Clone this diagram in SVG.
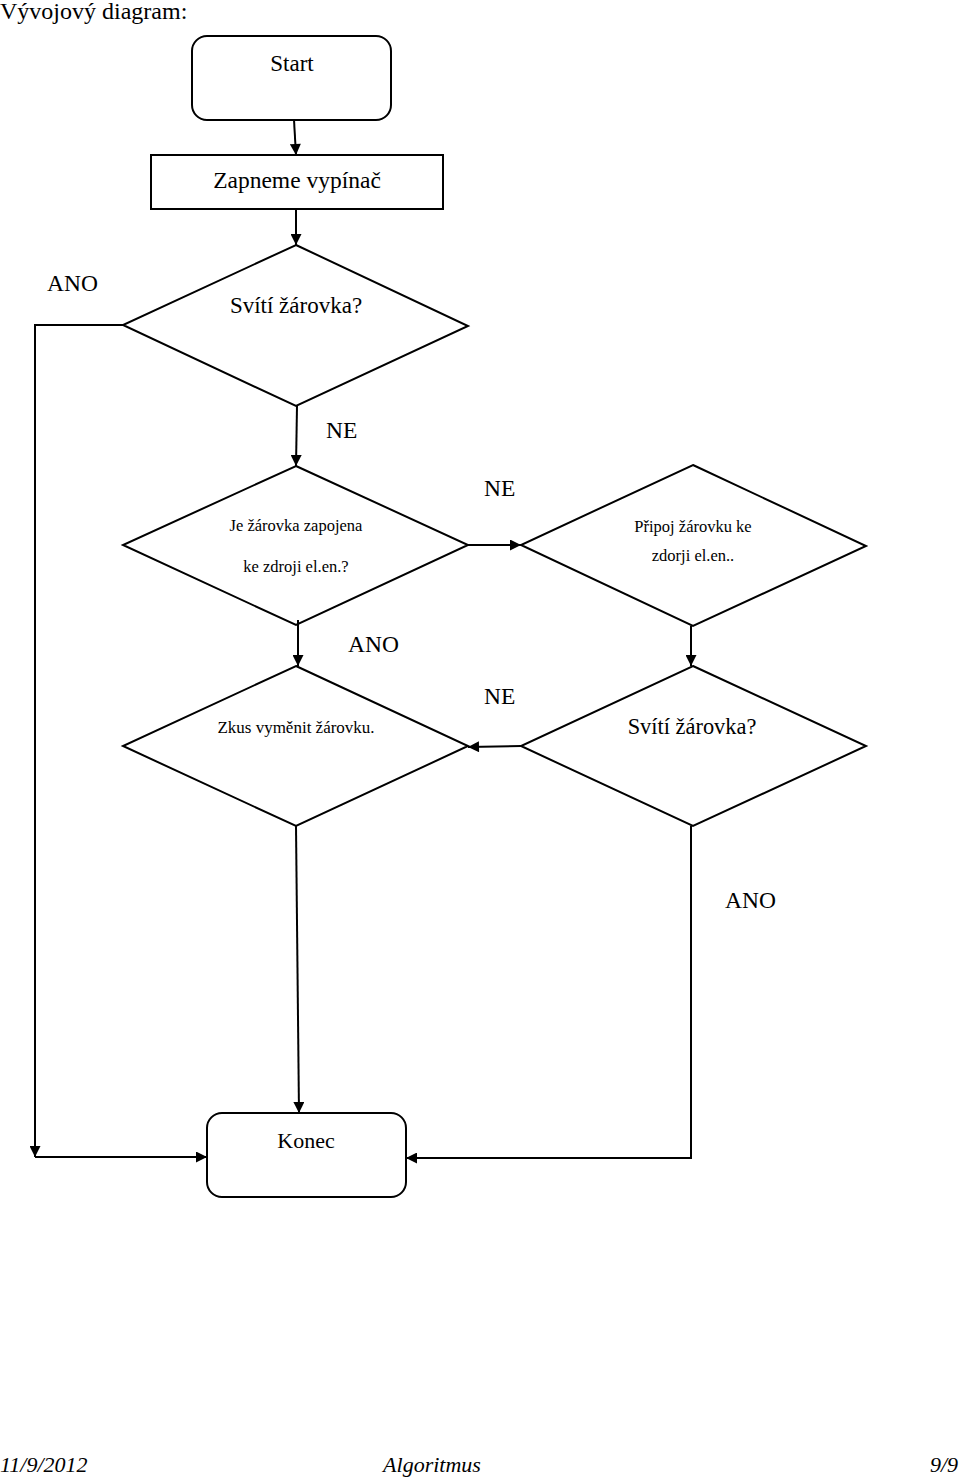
<svg xmlns="http://www.w3.org/2000/svg" width="960" height="1478" viewBox="0 0 960 1478">
<defs>
<marker id="arr" viewBox="0 0 10 10" refX="10" refY="5" markerWidth="13" markerHeight="11" markerUnits="userSpaceOnUse" orient="auto">
<path d="M0,0 L10,5 L0,10 z" fill="#000"/>
</marker>
<style>
.shape{fill:#fff;stroke:#000;stroke-width:2}
.conn{fill:none;stroke:#000;stroke-width:2}
.t{font-family:"Liberation Serif",serif;fill:#000}
.big{font-size:23.5px}
.med{font-size:23px}
.sm{font-size:16.5px}
.foot{font-family:"Liberation Serif",serif;font-style:italic;font-size:22px}
</style>
</defs>
<rect width="960" height="1478" fill="#fff"/>
<text x="0" y="19" style="font-family:'Liberation Serif',serif;font-size:24px">Vývojový diagram:</text>

<g id="start">
<rect class="shape" x="192" y="36" width="199" height="84" rx="15"/>
<text class="t med" x="292" y="71" text-anchor="middle">Start</text>
</g>
<g id="zapneme">
<rect class="shape" x="151" y="155" width="292" height="54"/>
<text class="t med" x="297" y="188" text-anchor="middle" style="font-size:23.5px">Zapneme vypínač</text>
</g>
<g id="sviti1">
<polygon class="shape" points="296,245 468,326 296,406 123,325"/>
<text class="t med" x="296" y="313" text-anchor="middle">Svítí žárovka?</text>
</g>
<g id="zapojena">
<polygon class="shape" points="296,466 468,545 296,625 123,545"/>
<text class="t sm" x="296" y="531" text-anchor="middle">Je žárovka zapojena</text>
<text class="t sm" x="296" y="572" text-anchor="middle">ke zdroji el.en.?</text>
</g>
<g id="pripoj">
<polygon class="shape" points="693,465 866,546 693,626 521,545"/>
<text class="t sm" x="693" y="532" text-anchor="middle">Připoj žárovku ke</text>
<text class="t sm" x="693" y="561" text-anchor="middle">zdorji el.en..</text>
</g>
<g id="zkus">
<polygon class="shape" points="296,666 468,746 296,826 123,746"/>
<text class="t" x="296" y="733" text-anchor="middle" font-size="17">Zkus vyměnit žárovku.</text>
</g>
<g id="sviti2">
<polygon class="shape" points="693,666 866,746 693,826 521,746"/>
<text class="t" x="692" y="734" text-anchor="middle" font-size="22.4">Svítí žárovka?</text>
</g>
<g id="konec">
<rect class="shape" x="207" y="1113" width="199" height="84" rx="15"/>
<text class="t" x="306" y="1148" text-anchor="middle" font-size="22">Konec</text>
</g>

<g id="connectors">
<line class="conn" x1="294" y1="120" x2="296" y2="155" marker-end="url(#arr)"/>
<line class="conn" x1="296" y1="209" x2="296" y2="245" marker-end="url(#arr)"/>
<line class="conn" x1="297" y1="406" x2="296" y2="466" marker-end="url(#arr)"/>
<line class="conn" x1="468" y1="545" x2="521" y2="545" marker-end="url(#arr)"/>
<line class="conn" x1="298" y1="620" x2="298" y2="666" marker-end="url(#arr)"/>
<line class="conn" x1="691" y1="626" x2="691" y2="666" marker-end="url(#arr)"/>
<line class="conn" x1="521" y1="746" x2="468" y2="747" marker-end="url(#arr)"/>
<line class="conn" x1="296" y1="826" x2="299" y2="1113" marker-end="url(#arr)"/>
<polyline class="conn" points="123,325 35,325 35,1157" marker-end="url(#arr)"/>
<line class="conn" x1="35" y1="1157" x2="207" y2="1157" marker-end="url(#arr)"/>
<polyline class="conn" points="691,826 691,1158 406,1158" marker-end="url(#arr)"/>
<text class="t big" x="47" y="291">ANO</text>
<text class="t big" x="326" y="438">NE</text>
<text class="t big" x="484" y="496">NE</text>
<text class="t big" x="348" y="652">ANO</text>
<text class="t big" x="484" y="704">NE</text>
<text class="t big" x="725" y="908">ANO</text>
</g>

<text class="foot" x="0" y="1472">11/9/2012</text>
<text class="foot" x="432" y="1472" text-anchor="middle">Algoritmus</text>
<text class="foot" x="958" y="1472" text-anchor="end">9/9</text>
</svg>
